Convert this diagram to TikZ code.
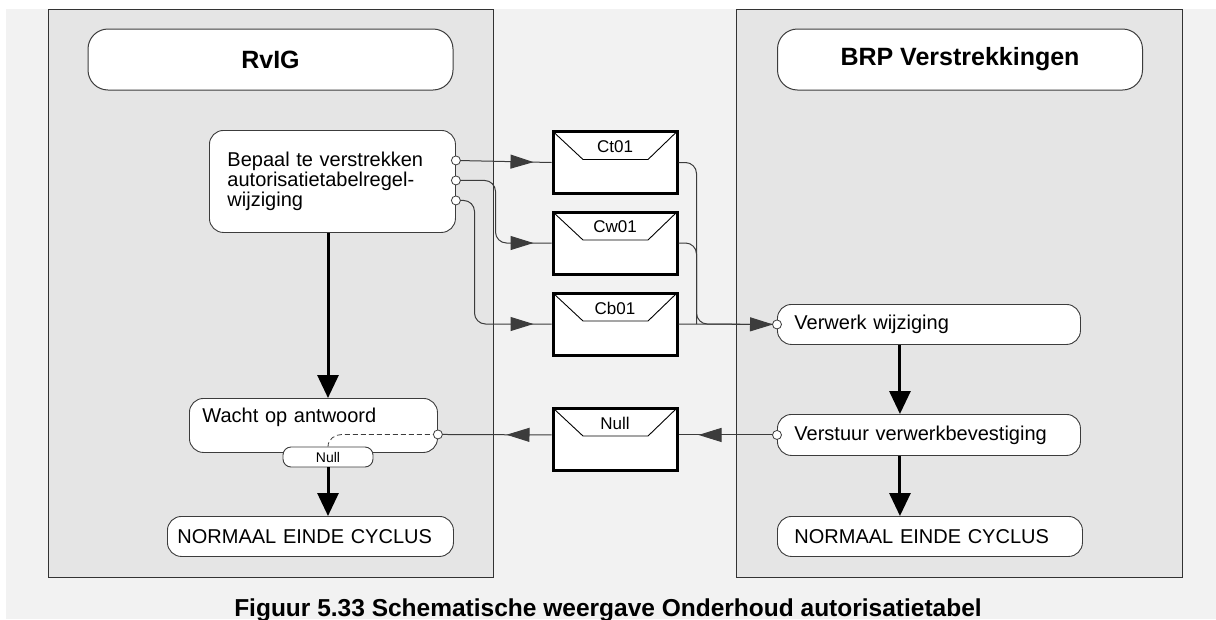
\documentclass[tikz,border=0pt]{standalone}
\usepackage{fontspec}
\setmainfont{Liberation Sans}
\usetikzlibrary{positioning, arrows.meta, calc, decorations.markings}

\definecolor{pagebg}{HTML}{F2F2F2}
\definecolor{lanebg}{HTML}{E5E5E5}
\definecolor{linegray}{HTML}{3C3C3C}

\begin{document}
\begin{tikzpicture}[
    x=1pt, y=-1pt,
    % swimlanes and their headers
    lane/.style={draw=black!80, fill=lanebg, line width=1pt},
    header/.style={draw=linegray, fill=white, rounded corners=20pt, line width=1pt,
        minimum width=365pt, minimum height=61pt, inner sep=0pt,
        font=\fontsize{25}{28}\selectfont\bfseries},
    proc/.style={draw=linegray, fill=white, rounded corners=14pt, line width=0.9pt,
        anchor=north west, inner xsep=0pt, inner ysep=0pt, align=left,
        font=\fontsize{20}{20}\selectfont},
    minibox/.style={draw=linegray, fill=white, rounded corners=8pt, line width=0.9pt,
        minimum width=90pt, minimum height=20pt, inner sep=0pt,
        font=\fontsize{14}{15}\selectfont},
    envelope/.style={draw=black, fill=white, line width=3pt,
        minimum width=124pt, minimum height=62pt, inner sep=0pt,
        path picture={
            \draw[line width=0.9pt] (path picture bounding box.north west) -- ++(30pt,-28pt)
                -- ([xshift=-29pt,yshift=-28pt]path picture bounding box.north east)
                -- (path picture bounding box.north east);
            \node[font=\fontsize{17}{18}\selectfont] at ([yshift=-15pt]path picture bounding box.north) {#1};
        }},
    % connectors
    msg/.style={draw=linegray, line width=1pt},
    tipat/.style={postaction={decorate, decoration={markings,
        mark=at position #1 with {\arrow{Triangle[length=23pt,width=14pt]}}}}},
    flow/.style={draw=black, line width=3pt, -{Triangle[length=23pt,width=21pt]}},
    port/.style={draw=linegray, fill=white, line width=0.8pt},
]

\useasboundingbox (0,0) rectangle (1216,619);
\fill[pagebg] (6,9) rectangle (1216,619);

% lanes
\draw[lane] (48,9) rectangle (493,577);
\draw[lane] (736,9) rectangle (1182,577);
\node[header] (rvig) at (270.5,59.5) {RvIG};
\node[header] (brp) at (960,59.5) {BRP Verstrekkingen};

% RvIG side
\node[proc, minimum width=246pt, minimum height=102pt, text width=210pt] (bepaal) at (209,130)
    {Bepaal te verstrekken\\autorisatietabelregel-\\wijziging};
\node[proc, minimum width=248pt, minimum height=54pt, text width=222pt, text depth=20pt] (wacht) at (189,398)
    {Wacht op antwoord};
\node[minibox] (nullmini) at (328,457) {Null};
\node[proc, minimum width=286pt, minimum height=40pt, text width=266pt] (normL) at (167,516)
    {NORMAAL EINDE CYCLUS};

% messages
\node[envelope=Ct01] (ct01) at (615,162.5) {};
\node[envelope=Cw01] (cw01) at (615,243) {};
\node[envelope=Cb01] (cb01) at (615,324) {};
\node[envelope=Null] (nullenv) at (615,439) {};

% BRP side
\node[proc, minimum width=303pt, minimum height=40pt, text width=269pt] (verwerk) at (777,304)
    {Verwerk wijziging};
\node[proc, minimum width=303pt, minimum height=41pt, text width=269pt] (verstuur) at (777,414)
    {Verstuur verwerkbevestiging};
\node[proc, minimum width=305pt, minimum height=40pt, text width=271pt] (normR) at (777,516)
    {NORMAAL EINDE CYCLUS};

\coordinate (b1) at ([yshift=21pt]bepaal.east);
\coordinate (b2) at ([yshift=1pt]bepaal.east);
\coordinate (b3) at ([yshift=-19pt]bepaal.east);
\coordinate (wport) at ([yshift=-9pt]wacht.east);
\coordinate (vport) at (verstuur.west);

% outgoing messages
\draw[msg, tipat=-18pt] (b1) -- (ct01.west);
\draw[msg, rounded corners=11pt, tipat=-18pt] (b2) -| ($(cw01.west)+(-56,0)$) -- (cw01.west);
\draw[msg, rounded corners=11pt, tipat=-18pt] (b3) -| ($(cb01.west)+(-77,0)$) -- (cb01.west);
\draw[msg, rounded corners=11pt] (ct01.east) -| ($(cb01.east)+(18,0)$) -- (verwerk.west);
\draw[msg, rounded corners=11pt] (cw01.east) -| ($(cb01.east)+(18,0)$);
\draw[msg, tipat=-4pt] (cb01.east) -- (verwerk.west);

% answer
\draw[msg, tipat=-20pt] (vport) -- (vport -| nullenv.east);
\draw[msg, tipat=45pt] (nullenv.west |- vport) -- (wport);
\draw[linegray, line width=0.8pt, dash pattern=on 5pt off 3pt] (wport) -- ($(nullmini.north |- wport)+(14,0)$)
    to[out=180, in=90] (nullmini.north);

% control flow
\draw[flow] (bepaal.south -| nullmini) -- (wacht.north -| nullmini);
\draw[flow] (nullmini.south) -- (nullmini.south |- normL.north);
\draw[flow] ([xshift=-29pt]verwerk.south) -- ([xshift=-29pt]verstuur.north);
\draw[flow] ([xshift=-29pt]verstuur.south) -- ([xshift=-29pt]verstuur.south |- normR.north);

\foreach \p in {b1, b2, b3, wport, vport, verwerk.west}
    \draw[port] (\p) circle (4.5pt);

\node[font=\fontsize{24.5}{28}\selectfont\bfseries, anchor=base] (caption) at (608,616)
    {Figuur 5.33 Schematische weergave Onderhoud autorisatietabel};

\end{tikzpicture}
\end{document}
